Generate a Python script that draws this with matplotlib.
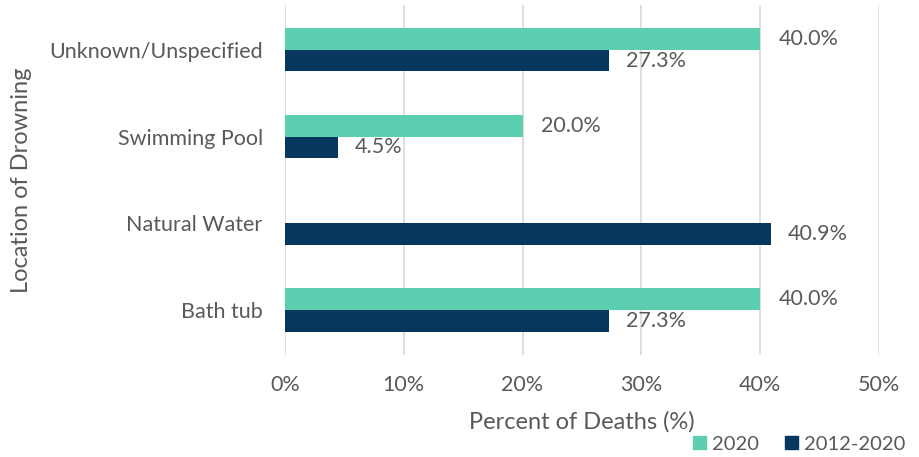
import numpy as np
import matplotlib
matplotlib.use("Agg")
import matplotlib.pyplot as plt
from matplotlib.patches import Patch

plt.rcParams['font.family'] = ['Lato', 'DejaVu Sans']

locations = ["Bath tub", "Natural Water", "Swimming Pool", "Unknown/Unspecified"]
pct_2020 = [40.0, 0.0, 20.0, 40.0]
pct_2012_2020 = [27.3, 40.9, 4.5, 27.3]
series_names = ["2020", "2012-2020"]

teal = '#5DCFB1'
navy = '#06375F'
grey = '#595959'

fig = plt.figure(figsize=(9.19, 4.57), dpi=100)
ax = fig.add_axes([0.310, 0.223, 0.6465, 0.766])

y = np.arange(len(locations))
h = 0.25
ax.barh(y + h / 2, pct_2020, height=h, color=teal, zorder=3)
ax.barh(y - h / 2, pct_2012_2020, height=h, color=navy, zorder=3)

for yi, v in zip(y, pct_2020):
    if v > 0:
        ax.annotate(f"{v:.1f}%", (v, yi + h / 2), xytext=(13, 0), textcoords='offset points',
                    va='center', ha='left', fontsize=15.5, color=grey)
for yi, v in zip(y, pct_2012_2020):
    ax.annotate(f"{v:.1f}%", (v, yi - h / 2), xytext=(12, 0), textcoords='offset points',
                va='center', ha='left', fontsize=15.5, color=grey)

ax.set_xlim(0, 50)
ax.set_ylim(-0.518, 3.515)
ax.set_xticks(np.arange(0, 51, 10))
ax.set_xticklabels([f"{t}%" for t in range(0, 51, 10)])
ax.set_yticks(y)
ax.set_yticklabels(locations)
ax.tick_params(axis='both', length=0, labelsize=15.5, colors=grey)
ax.tick_params(axis='x', pad=14)
ax.tick_params(axis='y', pad=16)
ax.grid(axis='x', color='#D9D9D9', linewidth=1.2, zorder=0)
for s in ax.spines.values():
    s.set_visible(False)

ax.set_xlabel("Percent of Deaths (%)", fontsize=17, color=grey, labelpad=12)
ax.set_ylabel("Location of Drowning", fontsize=17, color=grey, labelpad=12)

handles = [Patch(color=teal), Patch(color=navy)]
fig.legend(handles, series_names, loc='lower right', bbox_to_anchor=(1.005, -0.03), ncol=2,
           frameon=False, fontsize=14.5, handlelength=0.65, handleheight=0.65,
           handletextpad=0.3, columnspacing=1.3, labelcolor=grey)

fig.savefig("out.png", dpi=100)
